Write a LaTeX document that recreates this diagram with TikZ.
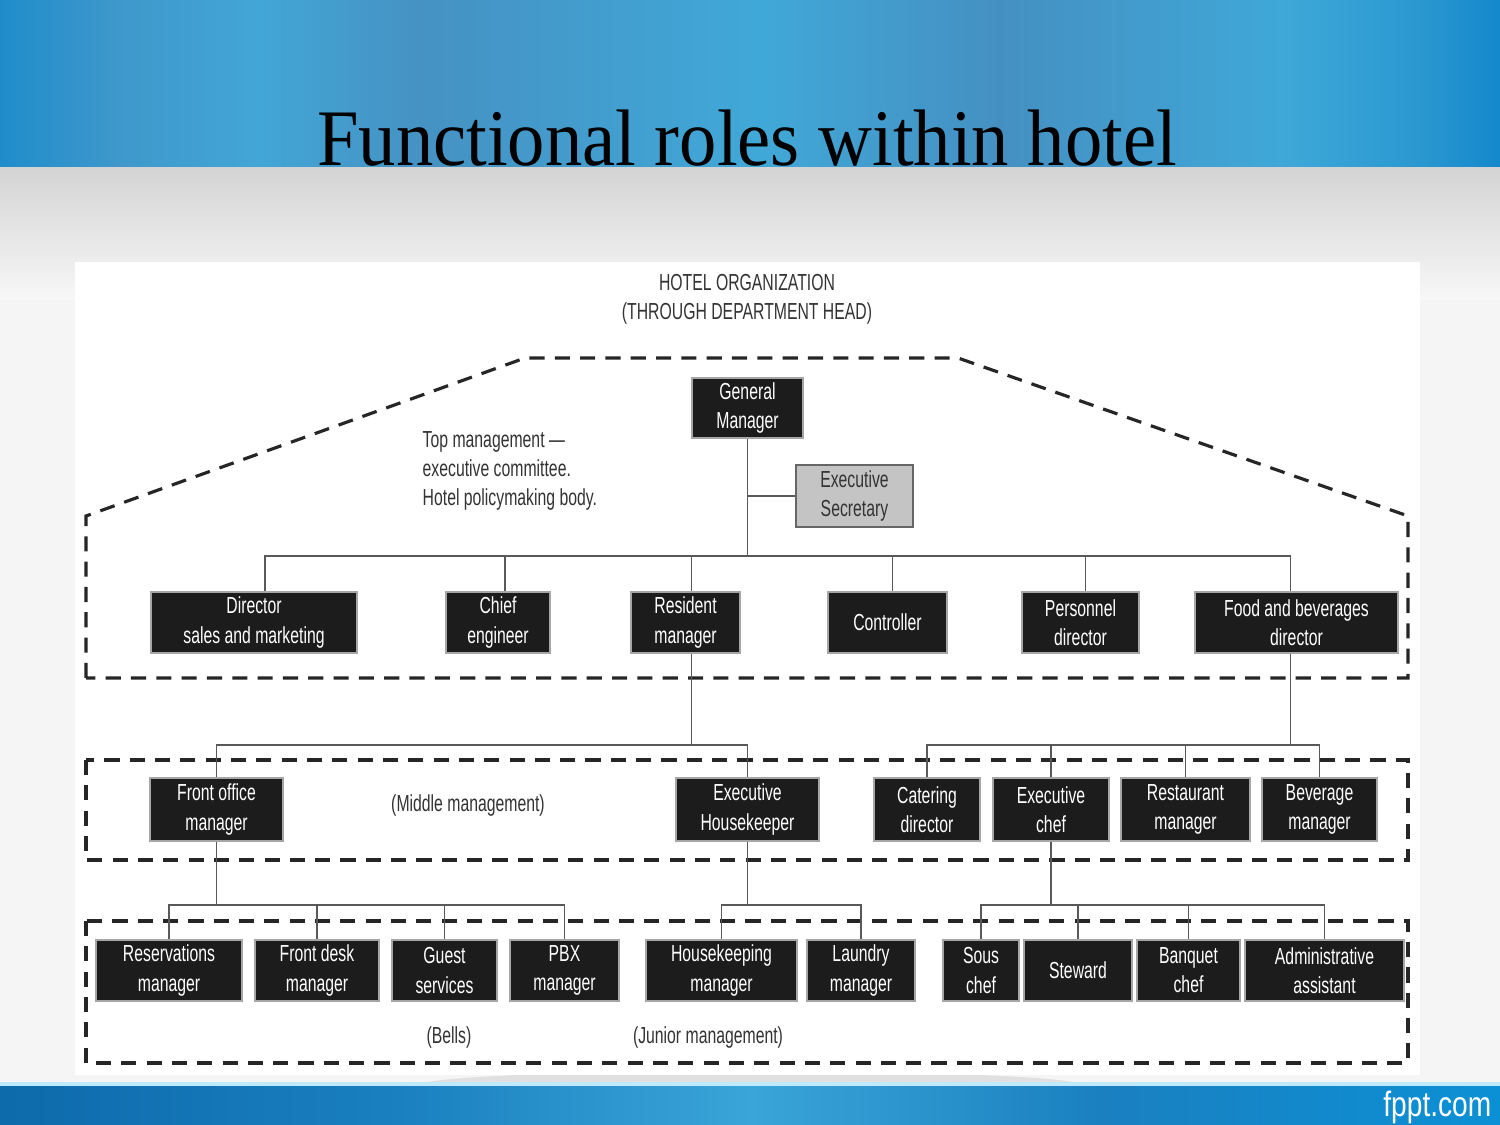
\documentclass[tikz,border=0pt]{standalone}
\usepackage{fontspec}
\setmainfont{Liberation Serif}
\newfontfamily\chartfont[FakeStretch=0.68]{Liberation Sans}
\newfontfamily\titlefont[FakeStretch=0.93]{Liberation Serif}
\newfontfamily\logofont[FakeStretch=0.8]{Liberation Sans}
\usepackage{tikz}
\usetikzlibrary{positioning,calc}

\definecolor{boxblack}{HTML}{1C1C1C}
\definecolor{secgray}{HTML}{C4C4C4}
\definecolor{inkgray}{HTML}{333333}
\definecolor{tA}{HTML}{1F8DCB}
\definecolor{tB}{HTML}{3F98CB}
\definecolor{tC}{HTML}{42A6D6}
\definecolor{tD}{HTML}{4592C3}
\definecolor{tE}{HTML}{40A8D8}
\definecolor{tF}{HTML}{4590C2}
\definecolor{tG}{HTML}{3FA8D8}
\definecolor{tH}{HTML}{2A98D0}
\definecolor{tI}{HTML}{1488CC}
\definecolor{bA}{HTML}{0D6AAB}
\definecolor{bB}{HTML}{1A80C0}
\definecolor{bC}{HTML}{3AA5D8}
\definecolor{bD}{HTML}{0C90D5}

\begin{document}
\begin{tikzpicture}[x=0.01cm, y=-0.01cm,
  role/.style={draw=gray!70, line width=0.4pt, fill=boxblack, text=white,
    font=\chartfont\fontsize{6.6}{8.25}\selectfont, align=center,
    inner sep=0pt, minimum height=0.61cm},
  secbox/.style={role, fill=secgray, draw=black!60, line width=0.8pt, text=inkgray},
  note/.style={text=inkgray, font=\chartfont\fontsize{6.6}{8.25}\selectfont, inner sep=0pt},
  link/.style={draw=black!65, line width=0.45pt},
  mgmt/.style={draw=black!85, line width=0.9pt, dash pattern=on 4.3pt off 2.9pt}]

  % Slide background
  \useasboundingbox (0,0) rectangle (1500,1125);
  \fill[black!4] (0,0) rectangle (1500,1125);
  \foreach \xa/\xb/\ca/\cb in {0/121/tA/tB,120/261/tB/tC,260/421/tC/tD,420/761/tD/tE,
      760/1001/tE/tF,1000/1281/tF/tG,1280/1421/tG/tH,1420/1500/tH/tI} {
    \shade[left color=\ca, right color=\cb] (\xa,0) rectangle (\xb,168);
  }
  \shade[top color=black!17, bottom color=black!3] (0,168) rectangle (1500,300);
  \fill[black!12] (750,1085) ellipse (330 and 14);
  \foreach \xa/\xb/\ca/\cb in {0/401/bA/bB,400/751/bB/bC,750/1101/bC/bB,1100/1500/bB/bD} {
    \shade[left color=\ca, right color=\cb] (\xa,1085) rectangle (\xb,1125);
  }
  \draw[cyan!25, line width=1pt] (0,1084) -- (1500,1084);
  \node[anchor=base east, text=white, font=\logofont\fontsize{10}{12}\selectfont, inner sep=0pt]
    (logo) at (1492,1116) {fppt.com};

  % Title
  \node[anchor=base, font=\titlefont\fontsize{22.8}{26}\selectfont, inner sep=0pt]
    (title) at (747,166) {Functional roles within hotel};

  % Chart panel
  \fill[white] (75,262) rectangle (1420,1075);
  \node[note, align=center] (head) at (747,299) {HOTEL ORGANIZATION\\(THROUGH DEPARTMENT HEAD)};

  % Management levels
  \draw[mgmt] (86,678) -- (86,516) -- (525,358) -- (958,358) -- (1408,516) -- (1408,678) -- cycle;
  \draw[mgmt] (86,760) rectangle (1408,860);
  \draw[mgmt] (86,921) rectangle (1408,1063);
  \node[note, anchor=west, align=left] (topnote) at (422,471)
    {Top management —\\executive committee.\\Hotel policymaking body.};
  \node[note] (midnote) at (468,805) {(Middle management)};
  \node[note] (bells) at (449,1037) {(Bells)};
  \node[note] (junnote) at (708,1037) {(Junior management)};

  % Bus levels
  \coordinate (lvl1) at (0,556);
  \coordinate (lvl2) at (0,745);
  \coordinate (lvl3) at (0,905);

  % Top management
  \node[role, minimum width=1.11cm, minimum height=0.6cm] (gm) at (747.5,408) {General\\Manager};
  \node[secbox, minimum width=1.17cm, minimum height=0.62cm] (sec) at (854.5,496) {Executive\\Secretary};
  \foreach \n/\x/\w/\t in {dsm/254/2.06/{Director\\sales and marketing},
      chief/498/1.04/{Chief\\engineer}, resident/685.5/1.09/{Resident\\manager},
      controller/887.5/1.19/{Controller}, personnel/1080.5/1.17/{Personnel\\director},
      fbd/1296.5/2.03/{Food and beverages\\director}} {
    \node[role, minimum width=\w cm] (\n) at (\x,622.5) {\t};
  }

  % Middle management
  \foreach \n/\x/\w/\t in {fom/216.5/1.33/{Front office\\manager},
      ehk/747.5/1.43/{Executive\\Housekeeper}, cat/927/1.06/{Catering\\director},
      echef/1051/1.16/{Executive\\chef}, rest/1185.5/1.29/{Restaurant\\manager},
      bev/1319.5/1.15/{Beverage\\manager}} {
    \node[role, minimum width=\w cm, minimum height=0.63cm] (\n) at (\x,809.5) {\t};
  }

  % Junior management
  \foreach \n/\x/\w/\t in {res/169/1.46/{Reservations\\manager},
      fdm/317/1.24/{Front desk\\manager}, gs/444.5/1.05/{Guest\\services},
      pbx/564.5/1.09/{PBX\\manager}, hkm/721.5/1.51/{Housekeeping\\manager},
      lau/861/1.08/{Laundry\\manager}, sous/981/0.76/{Sous\\chef},
      stew/1078/1.08/{Steward}, banq/1188.5/1.03/{Banquet\\chef},
      adm/1324.5/1.59/{Administrative\\assistant}} {
    \node[role, minimum width=\w cm] (\n) at (\x,970.5) {\t};
  }

  % Connectors
  \draw[link] (gm.south) -- (gm.south |- lvl1);
  \draw[link] (sec.west) -- (sec.west -| gm.south);
  \foreach \n/\dx in {dsm/11,chief/7,resident/6,controller/5,personnel/5,fbd/-6} {
    \draw[link] (gm.south |- lvl1) -| ($(\n.north)+(\dx,0)$);
  }
  \coordinate (rmout) at ($(resident.south)+(6,0)$);
  \coordinate (fbout) at ($(fbd.south)+(-6,0)$);
  \draw[link] (rmout) -- (rmout |- lvl2);
  \foreach \n in {fom,ehk} \draw[link] (rmout |- lvl2) -| (\n.north);
  \draw[link] (fbout) -- (fbout |- lvl2);
  \foreach \n in {cat,echef,rest,bev} \draw[link] (fbout |- lvl2) -| (\n.north);
  \draw[link] (fom.south) -- (fom.south |- lvl3);
  \foreach \n in {res,fdm,gs,pbx} \draw[link] (fom.south |- lvl3) -| (\n.north);
  \draw[link] (ehk.south) -- (ehk.south |- lvl3);
  \foreach \n in {hkm,lau} \draw[link] (ehk.south |- lvl3) -| (\n.north);
  \draw[link] (echef.south) -- (echef.south |- lvl3);
  \foreach \n in {sous,stew,banq,adm} \draw[link] (echef.south |- lvl3) -| (\n.north);
\end{tikzpicture}
\end{document}
